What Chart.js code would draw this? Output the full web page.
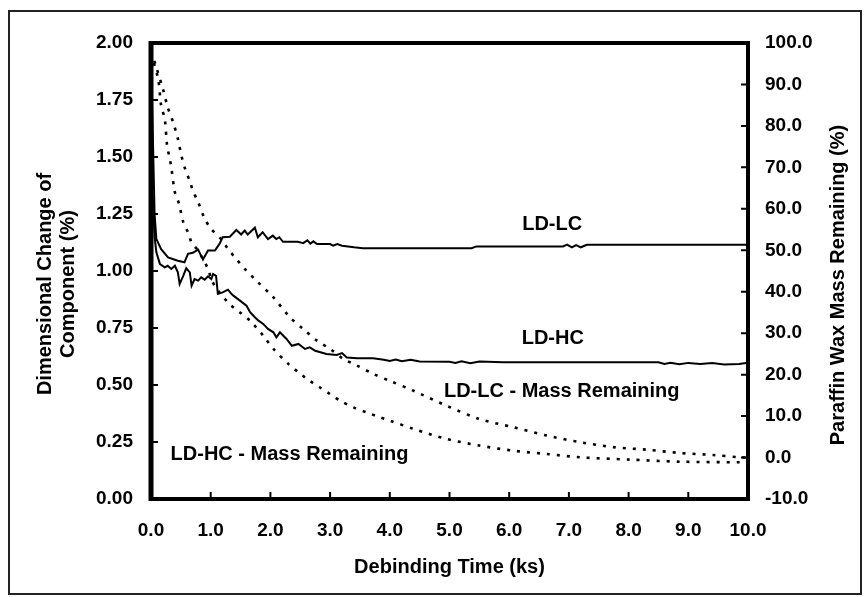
<!DOCTYPE html>
<html>
<head>
<meta charset="utf-8">
<script src="https://cdn.jsdelivr.net/npm/chart.js@4.4.0/dist/chart.umd.min.js"></script>
<style>
html,body{margin:0;padding:0;background:#fff;}
canvas{display:block;}
</style>
</head>
<body>
<canvas id="c" width="868" height="597"></canvas>
<script>
// ---- data ----
const xTicks = [0,1,2,3,4,5,6,7,8,9,10];
const leftTicks = [0,0.25,0.5,0.75,1,1.25,1.5,1.75,2];
const rightTicks = [-10,0,10,20,30,40,50,60,70,80,90,100];

// LD-LC dimensional change (%), left axis
const lcTime = [0,0.03,0.06,0.09,0.17,0.285,0.45,0.56,0.62,0.70,0.79,0.87,0.955,1.07,1.15,1.20,1.32,1.43,1.51,1.57,1.62,1.74,1.79,1.87,1.96,2.04,2.10,2.15,2.21,2.46,2.55,2.62,2.67,2.72,2.78,2.83,3.0,3.05,3.12,3.2,3.4,3.55,5.37,5.45,6.9,6.97,7.05,7.12,7.2,7.3,10.0];
const lcChange = [1.95,1.6,1.25,1.14,1.096,1.06,1.045,1.038,1.075,1.08,1.094,1.05,1.09,1.09,1.12,1.148,1.15,1.18,1.16,1.177,1.16,1.19,1.148,1.17,1.14,1.155,1.14,1.148,1.128,1.128,1.122,1.135,1.12,1.13,1.118,1.118,1.118,1.111,1.118,1.111,1.104,1.10,1.10,1.108,1.108,1.116,1.104,1.114,1.104,1.115,1.115];

// LD-HC dimensional change (%), left axis
const hcTime = [0,0.03,0.06,0.09,0.15,0.23,0.28,0.34,0.40,0.45,0.48,0.54,0.59,0.65,0.68,0.73,0.79,0.84,0.90,0.955,1.01,1.04,1.09,1.12,1.2,1.29,1.35,1.38,1.49,1.60,1.66,1.74,1.80,1.88,1.96,2.05,2.10,2.16,2.27,2.36,2.47,2.58,2.66,2.75,2.94,3.11,3.2,3.28,3.45,3.72,3.9,4.0,4.1,4.2,4.35,4.5,5.0,5.1,5.2,5.35,5.5,5.9,8.5,8.6,8.7,8.85,9.0,9.2,9.4,9.6,9.85,10.0];
const hcChange = [1.35,1.32,1.15,1.082,1.03,1.016,1.023,1.009,1.023,0.994,0.943,0.979,1.012,0.994,0.936,0.965,0.958,0.972,0.962,0.977,0.965,0.987,0.979,0.899,0.906,0.918,0.899,0.892,0.87,0.848,0.819,0.797,0.782,0.768,0.746,0.731,0.709,0.731,0.702,0.672,0.68,0.658,0.665,0.65,0.636,0.632,0.64,0.621,0.617,0.617,0.611,0.605,0.612,0.604,0.611,0.603,0.602,0.597,0.604,0.596,0.603,0.6,0.6,0.592,0.598,0.591,0.597,0.592,0.596,0.59,0.592,0.598];

// LD-LC paraffin wax mass remaining (%), right axis
const lcMassTime = [0,0.09,0.2,0.28,0.37,0.45,0.51,0.59,0.65,0.7,0.79,0.9,1.01,1.18,1.29,1.43,1.57,1.79,2.04,2.33,2.55,2.78,3.0,3.22,3.45,3.72,4.0,4.4,4.95,5.5,6.07,6.63,7.19,7.75,8.3,8.86,9.42,9.87,10];
const lcMass = [98,94.1,88.9,84.5,80.9,76.9,72.8,68.8,66.8,64.4,61.6,57.6,55.1,52.6,50.3,47.9,45.5,42.3,38.8,33.8,31.0,28.2,26.2,23.8,22.2,20.2,18.5,16.1,12.5,9.3,7.3,5.3,3.7,2.5,1.9,1.1,0.6,0.06,0.0];

// LD-HC paraffin wax mass remaining (%), right axis
const hcMassTime = [0,0.12,0.17,0.23,0.27,0.31,0.34,0.40,0.47,0.54,0.62,0.68,0.79,0.87,0.955,1.02,1.12,1.32,1.49,1.66,1.88,2.05,2.3,2.5,2.66,2.83,3.0,3.17,3.39,3.61,3.84,4.0,4.4,4.95,5.5,6.07,6.63,7.19,8.02,8.86,9.87,10];
const hcMass = [97.5,91.3,84.9,81.7,75.2,72.4,70.0,64.0,61.2,56.8,54.3,51.9,49.9,47.9,45.5,42.7,40.3,37.0,35.0,33.0,29.4,26.2,22.6,20.2,18.5,16.9,15.3,13.7,12.1,10.9,9.7,8.9,6.9,4.5,2.9,1.65,0.86,0.06,-0.5,-1.0,-1.15,-1.2];

// text labels placed in data coordinates (x in ks, y on left axis)
const seriesLabels = [
  {text:'LD-LC', x:6.72, y:1.206},
  {text:'LD-HC', x:6.73, y:0.704},
  {text:'LD-LC - Mass Remaining', x:6.88, y:0.472},
  {text:'LD-HC - Mass Remaining', x:2.32, y:0.194}
];
const xTitle = 'Debinding Time (ks)';
const leftTitle = ['Dimensional Change of','Component (%)'];
const rightTitle = 'Paraffin Wax Mass Remaining (%)';

function zip(xs, ys){ return xs.map((x,i)=>({x:x, y:ys[i]})); }

const FONT = '"Liberation Sans", Arial, sans-serif';

const decor = {
  id:'decor',
  beforeDraw(chart){
    const ctx = chart.ctx;
    ctx.save();
    ctx.fillStyle = '#fff';
    ctx.fillRect(0,0,chart.width,chart.height);
    ctx.restore();
  },
  afterDatasetsDraw(chart){
    const ctx = chart.ctx;
    const a = chart.chartArea;
    const sx = chart.scales.x, sy = chart.scales.y, sy1 = chart.scales.y1;
    ctx.save();
    ctx.strokeStyle = '#000';
    // ticks (inward)
    ctx.lineWidth = 2;
    ctx.beginPath();
    xTicks.forEach(v=>{ const p = sx.getPixelForValue(v); ctx.moveTo(p, a.bottom); ctx.lineTo(p, a.bottom-7); });
    leftTicks.forEach(v=>{ const p = sy.getPixelForValue(v); ctx.moveTo(a.left, p); ctx.lineTo(a.left+7, p); });
    rightTicks.forEach(v=>{ const p = sy1.getPixelForValue(v); ctx.moveTo(a.right, p); ctx.lineTo(a.right-7, p); });
    ctx.stroke();
    // frame
    ctx.lineWidth = 4;
    ctx.strokeRect(a.left, a.top, a.right-a.left, a.bottom-a.top);
    ctx.lineWidth = 5;
    ctx.beginPath(); ctx.moveTo(a.left, a.top-2); ctx.lineTo(a.left, a.bottom+2); ctx.stroke();
    // outer border
    ctx.strokeStyle = '#222';
    ctx.lineWidth = 2;
    ctx.strokeRect(9, 11, 852, 583);
    // labels in plot
    ctx.fillStyle = '#000';
    ctx.font = 'bold 20px ' + FONT;
    ctx.textAlign = 'center';
    ctx.textBaseline = 'middle';
    seriesLabels.forEach(l=>{
      ctx.fillText(l.text, sx.getPixelForValue(l.x), sy.getPixelForValue(l.y));
    });
    // axis titles
    ctx.font = 'bold 20px ' + FONT;
    const cx = (a.left + a.right)/2;
    ctx.fillText(xTitle, cx, 567);
    const cy = (a.top + a.bottom)/2 + 13;
    ctx.save();
    ctx.translate(45, cy);
    ctx.rotate(-Math.PI/2);
    ctx.fillText(leftTitle[0], 0, 0);
    ctx.restore();
    ctx.save();
    ctx.translate(68, cy);
    ctx.rotate(-Math.PI/2);
    ctx.fillText(leftTitle[1], 0, 0);
    ctx.restore();
    ctx.save();
    ctx.translate(838, cy + 1);
    ctx.rotate(-Math.PI/2);
    ctx.fillText(rightTitle, 0, 0);
    ctx.restore();
    ctx.restore();
  }
};

const tickFont = {family: FONT, size: 19, weight: 'bold'};

new Chart(document.getElementById('c'), {
  type: 'line',
  data: {
    datasets: [
      {label:'LD-LC', data: zip(lcTime, lcChange), yAxisID:'y', borderColor:'#000', borderWidth:2, pointRadius:0, tension:0},
      {label:'LD-HC', data: zip(hcTime, hcChange), yAxisID:'y', borderColor:'#000', borderWidth:2, pointRadius:0, tension:0},
      {label:'LD-LC - Mass Remaining', data: zip(lcMassTime, lcMass), yAxisID:'y1', borderColor:'#000', borderWidth:2.6, borderDash:[3,7], pointRadius:0, tension:0.3},
      {label:'LD-HC - Mass Remaining', data: zip(hcMassTime, hcMass), yAxisID:'y1', borderColor:'#000', borderWidth:2.6, borderDash:[3,7], pointRadius:0, tension:0.3}
    ]
  },
  options: {
    responsive: false,
    devicePixelRatio: 1,
    animation: false,
    layout: {padding: {left:0, right:0, top:43, bottom:0}},
    plugins: {legend:{display:false}, tooltip:{enabled:false}},
    scales: {
      x: {
        type:'linear', min:0, max:10,
        afterFit(s){ s.height = 98; },
        afterBuildTicks(s){ s.ticks = xTicks.map(v=>({value:v})); },
        grid:{display:false, drawTicks:false},
        border:{display:false},
        ticks:{color:'#000', font:tickFont, padding:20, maxRotation:0, callback:v=>v.toFixed(1)}
      },
      y: {
        type:'linear', position:'left', min:0, max:2,
        afterFit(s){ s.width = 151; },
        afterBuildTicks(s){ s.ticks = leftTicks.map(v=>({value:v})); },
        grid:{display:false, drawTicks:false},
        border:{display:false},
        ticks:{color:'#000', font:tickFont, padding:18, callback:v=>v.toFixed(2)}
      },
      y1: {
        type:'linear', position:'right', min:-10, max:100,
        afterFit(s){ s.width = 120; },
        afterBuildTicks(s){ s.ticks = rightTicks.map(v=>({value:v})); },
        grid:{display:false, drawTicks:false},
        border:{display:false},
        ticks:{color:'#000', font:tickFont, padding:17, callback:v=>v.toFixed(1)}
      }
    }
  },
  plugins:[decor]
});
</script>
</body>
</html>
